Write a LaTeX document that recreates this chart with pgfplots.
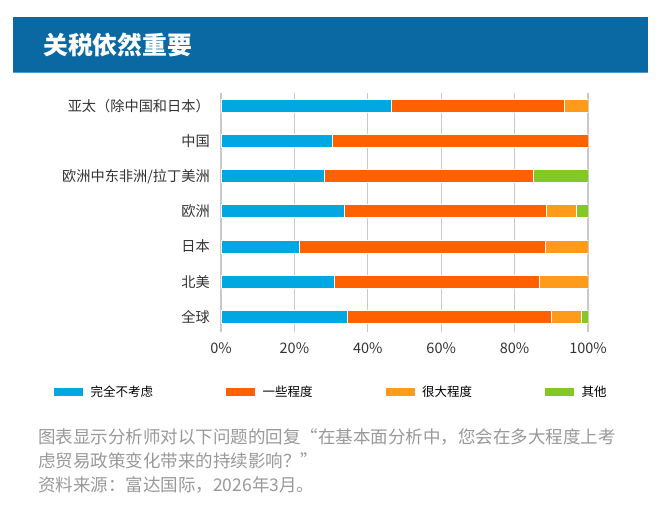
\documentclass[border=0pt]{standalone}
\usepackage{fontspec}
\setmainfont{Noto Sans CJK SC}
\usepackage{pgfplots}
\pgfplotsset{compat=1.18}
\usepackage{pgfplotstable}

\definecolor{hdrblue}{HTML}{0A69A3}
\definecolor{hdrline}{HTML}{4A9BD0}
\definecolor{cblue}{HTML}{00A7E1}
\definecolor{corange}{HTML}{FF6100}
\definecolor{clight}{HTML}{FF9B1B}
\definecolor{cgreen}{HTML}{84C825}
\definecolor{gridgrey}{HTML}{C9C9CD}
\definecolor{labelgrey}{HTML}{333333}
\definecolor{notegrey}{HTML}{999999}

% share of answers per region (row 0 = 全球 at the bottom)
\pgfplotstableread{
y  none  some  large  other
0  34.4  55.6  8.2    1.8
1  30.8  56.1  13.1   0
2  21.5  66.8  11.7   0
3  33.6  55.1  8.2    3.1
4  28.3  56.9  0      14.8
5  30.3  69.7  0      0
6  46.5  47.0  6.5    0
}\answers

\begin{document}
\begin{tikzpicture}
\useasboundingbox (0pt,0pt) rectangle (661pt,-529pt);
\fill[white] (0pt,0pt) rectangle (661pt,-529pt);

% header band
\fill[hdrblue] (13pt,-17pt) rectangle (648pt,-72pt);
\draw[hdrline, line width=0.8pt] (13pt,-72pt) -- (648pt,-72pt);
\node[anchor=west, text=white, font=\fontsize{24.8}{28}\selectfont\bfseries, inner sep=0pt]
  at (43pt,-45pt) {关税依然重要};

\begin{axis}[
  at={(221pt,-332pt)}, anchor=south west,
  scale only axis, width=367pt, height=239pt,
  xbar stacked, bar width=13pt,
  xmin=0, xmax=100, ymin=-0.43, ymax=6.37,
  axis line style={draw=none},
  major tick length=0pt,
  xmajorgrids, grid style={gridgrey, line width=1.3pt},
  xtick={0,20,...,100},
  xticklabel={\pgfmathprintnumber{\tick}\%},
  /pgf/number format/assume math mode=true,
  xticklabel style={anchor=center, inner sep=0pt, yshift=-16pt,
    font=\fontsize{14.5}{16}\selectfont, text=labelgrey},
  ytick={0,...,6},
  yticklabels={全球,北美,日本,欧洲,欧洲中东非洲/拉丁美洲,中国,亚太（除中国和日本）},
  yticklabel style={anchor=east, inner sep=0pt, xshift=-11pt,
    font=\fontsize{14.2}{16}\selectfont, text=labelgrey},
  every axis plot/.append style={draw=white, line width=1pt},
  legend columns=4,
  legend style={at={(-0.4550,-0.250)}, anchor=west, draw=none, fill=none,
    inner sep=0pt, font=\fontsize{12.5}{14}\selectfont,
    /tikz/every even column/.append style={column sep=71pt}},
  legend cell align=left,
  legend image code/.code={%
    \fill[#1, draw=none] (0pt,-4pt) rectangle (29pt,4pt);
    \path (34pt,0pt);},
]
\addplot[fill=cblue]   table[x=none,  y=y] {\answers};
\addplot[fill=corange] table[x=some,  y=y] {\answers};
\addplot[fill=clight]  table[x=large, y=y] {\answers};
\addplot[fill=cgreen]  table[x=other, y=y] {\answers};
\legend{完全不考虑,一些程度,很大程度,其他}
\end{axis}

% note and source
\begin{scope}[every node/.style={anchor=base west, inner sep=0pt, text=notegrey,
    font=\fontsize{17.5}{20}\selectfont}]
\node at (38pt,-443pt) {图表显示分析师对以下问题的回复“在基本面分析中，您会在多大程度上考};
\node at (38pt,-467pt) {虑贸易政策变化带来的持续影响？”};
\node at (38pt,-491pt) {资料来源：富达国际，2026年3月。};
\end{scope}
\end{tikzpicture}
\end{document}
